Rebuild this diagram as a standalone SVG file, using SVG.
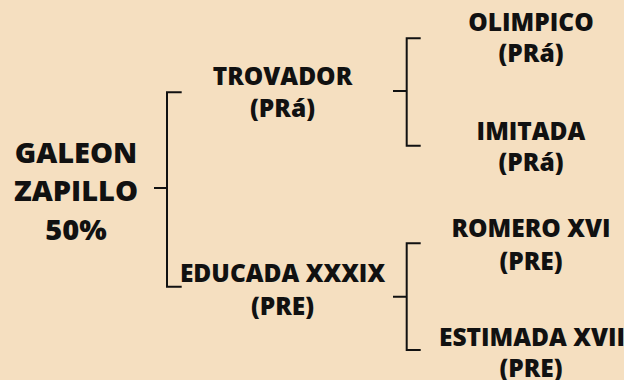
<svg xmlns="http://www.w3.org/2000/svg" width="624" height="380" viewBox="0 0 624 380">
<style>
text{font-family:"Open Sans","Noto Sans","Liberation Sans",sans-serif;font-weight:800;fill:#111;text-anchor:middle}
.r{font-size:29px}
.n{font-size:24.5px}
.c{fill:none;stroke:#111;stroke-width:2}
</style>
<rect width="624" height="380" fill="#F5DFC0"/>
<g id="connectors">
<path class="c" d="M154 188H167M181.7 92.3H167V286.7H181.7"/>
<path class="c" d="M393 91H406.7M420.7 38.3H406.7V145.7H420.7"/>
<path class="c" d="M393 296.7H406.7M420.7 243.3H406.7V350H420.7"/>
</g>
<g id="galeon"><text class="r" x="76" y="163">GALEON</text><text class="r" x="76" y="201">ZAPILLO</text><text class="r" x="76" y="240">50%</text></g>
<g id="trovador"><text class="n" x="282.5" y="85">TROVADOR</text><text class="n" x="282.5" y="117">(PRá)</text></g>
<g id="educada"><text class="n" x="282.5" y="282">EDUCADA XXXIX</text><text class="n" x="282.5" y="315">(PRE)</text></g>
<g id="olimpico"><text class="n" x="531" y="30.5">OLIMPICO</text><text class="n" x="531" y="62">(PRá)</text></g>
<g id="imitada"><text class="n" x="531" y="139.5">IMITADA</text><text class="n" x="531" y="170.5">(PRá)</text></g>
<g id="romero"><text class="n" x="531" y="236.5">ROMERO XVI</text><text class="n" x="531" y="269.5">(PRE)</text></g>
<g id="estimada"><text class="n" x="532" y="346">ESTIMADA XVII</text><text class="n" x="531" y="376.5">(PRE)</text></g>
</svg>
